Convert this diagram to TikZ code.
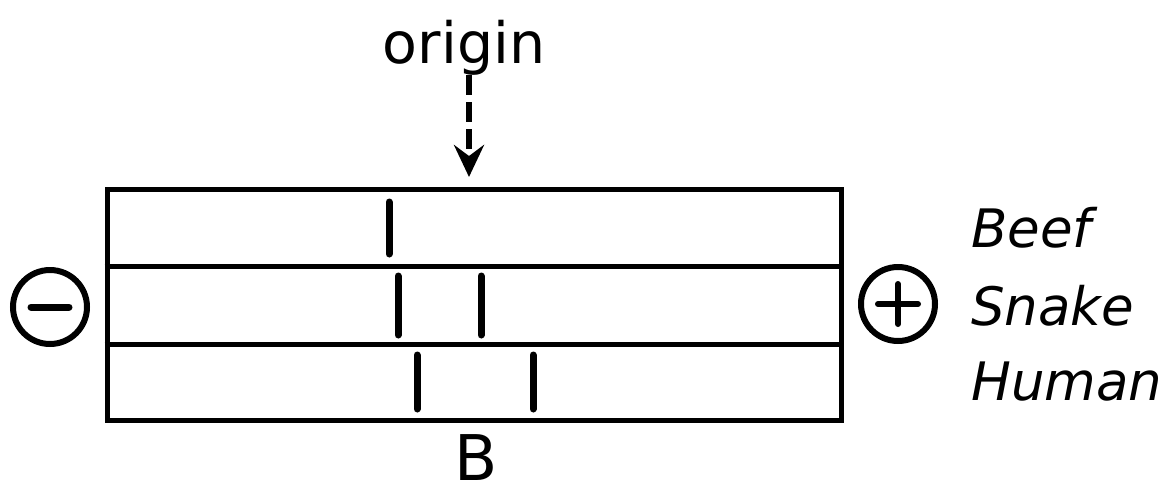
\documentclass[tikz,border=0pt]{standalone}
\usepackage{fontspec}
\setmainfont{DejaVu Sans}
\usetikzlibrary{arrows.meta}
\begin{document}
\begin{tikzpicture}[x=1pt,y=-1pt,
  frame/.style={line width=5pt},
  band/.style={line width=7pt,line cap=round},
  pole/.style={circle,draw,line width=6pt,minimum size=74pt,inner sep=0pt},
  lab/.style={anchor=base west,inner sep=0pt,font=\fontsize{53}{55}\selectfont\itshape},
  arr/.style={line width=6pt,dash pattern=on 20pt off 7pt,-{Stealth[length=32pt,width=30pt,inset=11pt]}}]
\useasboundingbox (0,0) rectangle (1172,496);
% gel
\node[frame,draw,minimum width=734pt,minimum height=231pt,inner sep=0pt] (gel) at (474,304.5) {};
\draw[frame] (gel.west |- 0,266) -- (gel.east |- 0,266);
\draw[frame] (gel.west |- 0,344) -- (gel.east |- 0,344);
% bands
\draw[band] (389,202) -- (389,254);
\draw[band] (398,276) -- (398,335);
\draw[band] (481,276) -- (481,335);
\draw[band] (417,355) -- (417,409);
\draw[band] (533,355) -- (533,409);
% poles
\node[pole] (minus) at (50,307) {};
\draw[line width=7pt,line cap=round] ([xshift=-19pt]minus.center) -- ([xshift=19pt]minus.center);
\node[pole] (plus) at (898,304) {};
\draw[line width=6pt,line cap=round] ([xshift=-20pt]plus.center) -- ([xshift=20pt]plus.center);
\draw[line width=6pt,line cap=round] ([yshift=-20pt]plus.center) -- ([yshift=20pt]plus.center);
% labels
\node[lab] (beef) at (971,247) {Beef};
\node[lab] (snake) at (971,325) {Snake};
\node[lab] (human) at (971,400) {Human};
\node[anchor=base,inner sep=0pt,font=\fontsize{57}{60}\selectfont] (origin) at (464,63) {origin};
\node[anchor=base,inner sep=0pt,font=\fontsize{63}{65}\selectfont] (blabel) at (476,480) {B};
% arrow
\coordinate (a0) at (469,75);
\coordinate (a1) at (469,177);
\draw[arr] (a0) -- (a1);
\end{tikzpicture}
\end{document}
